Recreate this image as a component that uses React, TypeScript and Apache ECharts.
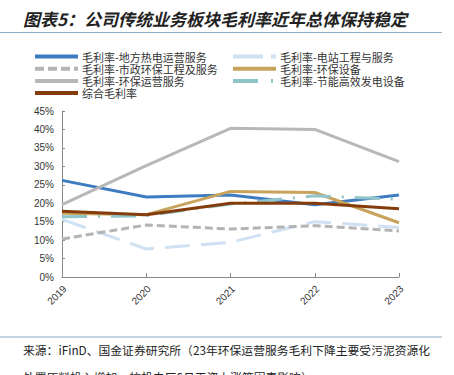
import React, { useEffect, useRef } from "react";
import * as echarts from "echarts";

const years = ["2019", "2020", "2021", "2022", "2023"];
const yTicks = [0, 5, 10, 15, 20, 25, 30, 35, 40, 45];

const heatOps = [26.2, 21.7, 22.2, 19.6, 22.2];
const stationEng = [15.6, 7.6, 9.4, 15.0, 13.4];
const municipal = [10.3, 14.1, 13.0, 13.9, 12.5];
const envEquip = [17.3, 16.9, 23.2, 22.9, 14.7];
const envOps = [19.6, 30.2, 40.3, 40.0, 31.3];
const powerEquip = [16.3, 16.6, 19.8, 22.0, 21.1];
const overall = [17.8, 16.9, 20.0, 20.0, 18.5];

const names = [
  "毛利率-地方热电运营服务",
  "毛利率-电站工程与服务",
  "毛利率-市政环保工程及服务",
  "毛利率-环保设备",
  "毛利率-环保运营服务",
  "毛利率-节能高效发电设备",
  "综合毛利率",
];
const colors = ["#3e7cc2", "#cfe1f3", "#b4b4b4", "#c8a35c", "#b8b8b8", "#8fc4c8", "#843c0c"];
const dashes: (number[] | null)[] = [null, [25, 11], [8, 4], null, null, [25, 11, 2, 11], null];
const legendDashes: (number[] | null)[] = [null, [30, 8], [9, 4], null, null, [25, 13, 2, 13], null];

export default function App() {
  const ref = useRef<HTMLDivElement>(null);
  useEffect(() => {
    if (!ref.current) return;
    const chart = echarts.init(ref.current, undefined, { renderer: "svg" });
    const cjk = "'Noto Sans CJK SC', sans-serif";
    const seriesData = [heatOps, stationEng, municipal, envEquip, envOps, powerEquip, overall];
    const series = names.map((name, i) => ({
      name,
      type: "line",
      data: seriesData[i],
      symbol: "none",
      lineStyle: { color: colors[i], width: 3, type: dashes[i] || "solid", cap: "butt" },
      itemStyle: { color: colors[i] },
    }));
    // legend layout: left column items 0,2,4,6; right column 1,3,5
    const legendGraphics: any[] = [];
    names.forEach((name, i) => {
      const col = i % 2;
      const row = Math.floor(i / 2);
      const x0 = col === 0 ? 35 : 233;
      const y = 56.5 + row * 12.2;
      legendGraphics.push({
        type: "line",
        shape: { x1: x0, y1: y, x2: x0 + 43, y2: y },
        style: {
          stroke: colors[i],
          lineWidth: 4,
          lineDash: legendDashes[i] || null,
          lineCap: "butt",
        },
      });
      legendGraphics.push({
        type: "text",
        x: x0 + 47,
        y: y,
        style: {
          text: name,
          font: "11px " + cjk,
          lineHeight: 12,
          fill: "#333",
          verticalAlign: "middle",
          align: "left",
        },
      });
    });
    chart.setOption({
      animation: false,
      grid: { left: 62, right: 55, top: 111, bottom: 98, containLabel: false },
      xAxis: {
        type: "category",
        data: years,
        boundaryGap: false,
        axisLine: { lineStyle: { color: "#888", width: 1 } },
        axisTick: { inside: true, length: 4, lineStyle: { color: "#888" } },
        axisLabel: {
          rotate: 45,
          fontSize: 10,
          color: "#333",
          fontFamily: "Arial, 'Liberation Sans'",
          margin: 13,
          padding: [0, -4, 0, 0],
        },
      },
      yAxis: {
        type: "value",
        min: 0,
        max: 45,
        interval: 5,
        splitLine: { show: false },
        axisLine: { show: true, lineStyle: { color: "#888", width: 1 } },
        axisTick: { show: true, inside: true, length: 3, lineStyle: { color: "#888" } },
        axisLabel: {
          fontSize: 10,
          color: "#333",
          fontFamily: "Arial, 'Liberation Sans'",
          margin: 8,
          padding: [4, 0, 0, 0],
          formatter: (v: number) => (yTicks.includes(v) ? v + "%" : ""),
        },
      },
      series,
      graphic: [
        {
          type: "text",
          x: 23,
          y: 18,
          style: {
            text: "图表5：公司传统业务板块毛利率近年总体保持稳定",
            font: "italic bold 17px " + cjk,
            fill: "#222",
            verticalAlign: "middle",
          },
        },
        {
          type: "line",
          shape: { x1: 0, y1: 32.5, x2: 442, y2: 32.5 },
          style: { stroke: "#8aaec6", lineWidth: 1.2 },
        },
        ...legendGraphics,
        {
          type: "line",
          shape: { x1: 0, y1: 337, x2: 442, y2: 337 },
          style: { stroke: "#8aaec6", lineWidth: 1.2 },
        },
        {
          type: "text",
          x: 23,
          y: 349,
          style: {
            text: "来源：iFinD、国金证券研究所（23年环保运营服务毛利下降主要受污泥资源化",
            font: "11.8px " + cjk,
            fill: "#222",
            verticalAlign: "middle",
          },
        },
        {
          type: "text",
          x: 23,
          y: 376,
          style: {
            text: "处置原料投入增加、杭机电厂6月工资上涨等因素影响）",
            font: "11.8px " + cjk,
            fill: "#222",
            verticalAlign: "middle",
          },
        },
      ],
    });
    return () => chart.dispose();
  }, []);
  return (
    <div
      ref={ref}
      style={{ position: "fixed", left: 0, top: 0, width: 454, height: 375, background: "#fff" }}
    />
  );
}
